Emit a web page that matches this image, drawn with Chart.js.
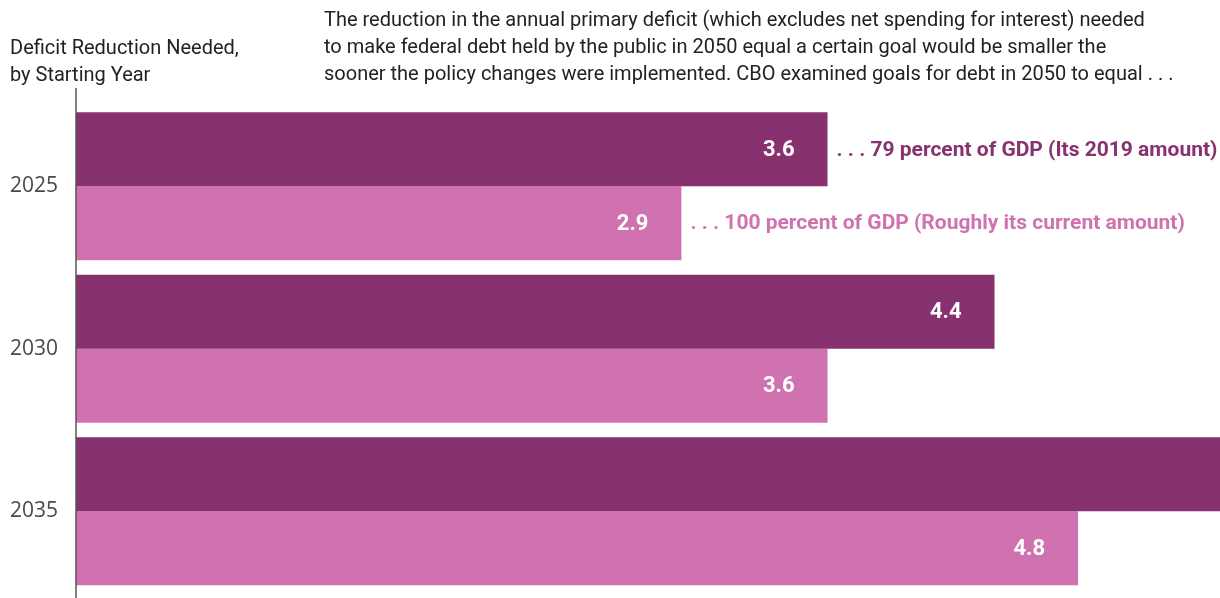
<!DOCTYPE html>
<html>
<head>
<meta charset="utf-8">
<script src="https://cdn.jsdelivr.net/npm/chart.js@4"></script>
<style>
  body { margin: 0; background: #fff; }
  #wrap { position: relative; width: 1220px; height: 598px; }
  .note { position: absolute; font-family: Roboto, sans-serif; font-size: 20px; line-height: 27px; color: #222; white-space: nowrap; }
  #yTitle { left: 10px; top: 34px; }
  #lede { left: 324px; top: 6px; }
</style>
</head>
<body>
<div id="wrap">
  <canvas id="deficitChart"></canvas>
  <div class="note" id="yTitle">Deficit Reduction Needed,<br>by Starting Year</div>
  <div class="note" id="lede">The reduction in the annual primary deficit (which excludes net spending for interest) needed<br>to make federal debt held by the public in 2050 equal a certain goal would be smaller the<br>sooner the policy changes were implemented. CBO examined goals for debt in 2050 to equal . . .</div>
</div>
<script>
const years = ['2025', '2030', '2035'];
const goal79 = [3.6, 4.4, 5.8];
const goal100 = [2.9, 3.6, 4.8];
const seriesNames = [
    '. . . 79 percent of GDP (Its 2019 amount)',
    '. . . 100 percent of GDP (Roughly its current amount)'
];
const seriesColors = ['#87326e', '#cf72af'];
const xMax = 5.48;

// value inside the bar end, series name after the first bar
const barLabels = {
    id: 'barLabels',
    afterDatasetsDraw(chart) {
        const ctx = chart.ctx;
        ctx.save();
        ctx.textBaseline = 'middle';
        chart.data.datasets.forEach(function (ds, i) {
            const meta = chart.getDatasetMeta(i);
            meta.data.forEach(function (bar, j) {
                ctx.font = 'bold 22px Roboto';
                ctx.fillStyle = '#fff';
                ctx.textAlign = 'right';
                ctx.fillText(ds.data[j].toFixed(1), bar.x - 33, bar.y + 1);
                if (j === 0) {
                    ctx.font = 'bold 21px Roboto';
                    ctx.fillStyle = ds.backgroundColor;
                    ctx.textAlign = 'left';
                    ctx.fillText(ds.label, bar.x + 9, bar.y + 1);
                }
            });
        });
        ctx.restore();
    }
};

// axis line runs from under the titles to the bottom edge
const axisLine = {
    id: 'axisLine',
    afterDraw(chart) {
        const ctx = chart.ctx;
        const x = chart.scales.x.getPixelForValue(0);
        ctx.save();
        ctx.strokeStyle = '#555';
        ctx.lineWidth = 1.5;
        ctx.beginPath();
        ctx.moveTo(x, 88);
        ctx.lineTo(x, chart.height);
        ctx.stroke();
        ctx.restore();
    }
};

document.addEventListener('DOMContentLoaded', function () {
    const ctx = document.getElementById('deficitChart').getContext('2d');

    new Chart(ctx, {
        type: 'bar',
        data: {
            labels: years,
            datasets: [{
                label: seriesNames[0],
                data: goal79,
                backgroundColor: seriesColors[0]
            }, {
                label: seriesNames[1],
                data: goal100,
                backgroundColor: seriesColors[1]
            }]
        },
        options: {
            indexAxis: 'y',
            responsive: true,
            maintainAspectRatio: false,
            animation: false,
            layout: {
                padding: { top: 105, bottom: 5.5, left: 0, right: 0 }
            },
            datasets: {
                bar: {
                    categoryPercentage: 0.91,
                    barPercentage: 1
                }
            },
            plugins: {
                legend: { display: false },
                tooltip: { enabled: false }
            },
            scales: {
                x: {
                    display: false,
                    min: 0,
                    max: xMax
                },
                y: {
                    grid: { display: false, drawTicks: false },
                    border: { display: false },
                    ticks: {
                        color: '#4a4a4a',
                        padding: 18,
                        font: { family: 'Open Sans', size: 21 }
                    },
                    afterFit: function (scale) {
                        scale.width = 76;
                        scale.paddingTop = 0;
                        scale.paddingBottom = 0;
                    }
                }
            }
        },
        plugins: [barLabels, axisLine]
    });
});
</script>
</body>
</html>
